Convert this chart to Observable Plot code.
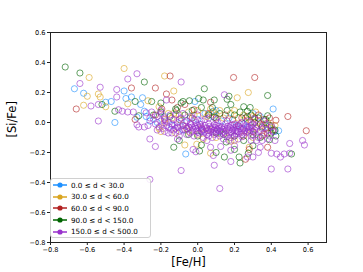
<!DOCTYPE html>
<html><head><meta charset="utf-8">
<script src="https://cdn.jsdelivr.net/npm/d3@7"></script>
<script src="https://cdn.jsdelivr.net/npm/@observablehq/plot@0.6"></script>
<style>
body{margin:0;background:#fff;font-family:"DejaVu Sans",sans-serif;}
#wrap{position:relative;width:363px;height:272px;}
#legend{position:absolute;left:50px;top:178px;width:101px;height:60px;border:1px solid #d0d0d0;border-radius:3px;background:rgba(255,255,255,0.85);box-sizing:border-box;}
.row{position:absolute;left:0;height:11px;display:flex;align-items:center;font-size:7.2px;color:#000;white-space:nowrap;}
.row svg{margin-left:2px;margin-right:4px;}
</style></head><body>
<div id="wrap"><div id="chart"></div><div id="legend"></div></div>
<script>
const seriesLabels = ["0.0 ≤ d < 30.0","30.0 ≤ d < 60.0","60.0 ≤ d < 90.0","90.0 ≤ d < 150.0","150.0 ≤ d < 500.0"];
const seriesColors = ["#1e90ff","#daa520","#b22222","#006400","#9932cc"];
const xTicks = [-0.8,-0.6,-0.4,-0.2,0.0,0.2,0.4,0.6];
const yTicks = [-0.8,-0.6,-0.4,-0.2,0.0,0.2,0.4,0.6];

// [Fe/H], [Si/Fe] pairs
const d0_30 = [[-0.67,0.225],[-0.62,0.195],[-0.50,0.135],[-0.47,0.14],[-0.45,0.0],[-0.40,0.21],[-0.36,0.17],[-0.39,0.16],
 [-0.30,0.165],[-0.31,0.12],[-0.29,0.075],[-0.33,0.035],[-0.015,0.14],[0.085,0.075],[-0.065,-0.21],[0.41,0.09],[0.44,-0.055],
 [-0.22,0.0],[-0.18,0.04],[-0.14,-0.02],[-0.09,0.01],[-0.04,0.03],[0.0,0.02],[0.04,0.06],[0.08,0.04],[0.10,0.08],[0.13,0.01],
 [0.17,0.03],[0.21,-0.02],[0.25,-0.01],[0.27,-0.03],[0.30,0.06],[0.34,0.04],[0.38,-0.03],[0.42,-0.06],[0.12,-0.06],[0.02,-0.06],
 [-0.08,-0.05],[-0.26,0.01],[-0.28,0.04]];
const d30_60 = [[-0.59,0.30],[-0.60,0.175],[-0.62,0.115],[-0.54,0.19],[-0.53,0.17],[-0.50,0.105],[-0.40,0.36],[-0.38,0.125],
 [-0.27,0.145],[-0.18,0.31],[-0.13,0.21],[-0.21,0.105],[-0.13,0.06],[0.07,0.09],[-0.07,-0.15],[-0.005,-0.145],[0.03,-0.11],
 [0.07,-0.205],[0.215,0.165],[0.275,0.20],[0.315,0.07],[0.28,-0.165],[0.18,-0.125],
 [-0.20,-0.06],[-0.21,-0.04],[-0.18,0.0],[-0.16,0.06],[-0.14,0.03],[-0.10,0.05],[-0.05,0.07],[-0.02,0.05],[0.0,0.08],[0.03,0.06],
 [0.05,0.04],[0.08,0.07],[0.10,0.05],[0.12,0.08],[0.14,0.03],[0.18,0.06],[0.20,0.08],[0.22,0.03],[0.25,0.05],[0.28,0.02],[0.30,0.04],
 [0.33,0.01],[0.35,-0.02],[0.38,0.0],[0.40,-0.04],[0.36,-0.08],[0.30,-0.10],[0.20,-0.12],[0.10,-0.10],[0.0,-0.08],[-0.05,-0.06],
 [-0.12,-0.07],[-0.08,-0.02],[0.06,-0.05],[0.15,-0.07],[0.26,-0.06],[0.32,-0.04],[0.42,-0.02]];
const d60_90 = [[-0.66,0.09],[-0.36,0.23],[-0.34,0.02],[-0.23,0.23],[-0.15,0.31],[-0.17,0.19],[-0.14,0.15],[-0.195,0.09],
 [-0.11,0.10],[-0.07,0.12],[-0.02,0.085],[0.07,0.135],[0.195,0.30],[0.31,0.30],[0.49,0.04],[0.59,-0.055],[0.425,0.015],
 [0.38,-0.165],[0.26,-0.245],[0.28,-0.18],
 [-0.10,0.02],[-0.03,0.03],[0.02,-0.04],[0.10,0.03],[0.15,0.05],[0.19,0.02],[0.24,0.03],[0.27,0.04],[0.29,0.0],[0.31,0.03],
 [0.33,0.05],[0.34,-0.01],[0.36,0.02],[0.37,-0.04],[0.39,0.03],[0.40,-0.02],[0.41,-0.05],[0.30,-0.06],[0.22,-0.02],[0.06,0.06],
 [-0.06,-0.04],[-0.18,0.02],[-0.23,0.05],[0.35,-0.09],[0.38,-0.07],[0.25,-0.09]];
const d90_150 = [[-0.72,0.37],[-0.64,0.33],[-0.52,0.12],[-0.45,0.075],[-0.34,0.14],[-0.29,0.27],[-0.32,0.045],[-0.25,0.14],
 [-0.20,0.13],[-0.08,0.14],[-0.09,0.13],[-0.115,0.08],[-0.045,0.145],[0.005,0.16],[0.036,0.225],[0.03,0.15],[0.09,0.15],
 [0.09,0.035],[-0.13,-0.165],[0.01,-0.19],[0.02,-0.15],[-0.10,-0.12],[0.10,-0.20],[0.17,0.175],[0.16,0.155],[0.25,0.105],
 [0.18,0.12],[0.27,0.075],[0.38,0.18],[0.285,0.10],[0.38,0.045],[0.425,-0.09],[0.51,-0.21],[0.275,-0.205],[0.23,-0.27],
 [0.225,-0.23],[0.145,-0.23],[0.30,-0.155],[0.20,-0.18],[0.39,-0.115],[0.155,-0.13],
 [-0.24,0.05],[-0.20,0.07],[-0.15,0.04],[-0.12,0.09],[-0.07,0.05],[-0.03,0.08],[0.02,0.10],[0.06,0.05],[0.08,0.10],[0.12,0.06],
 [0.16,0.08],[0.20,0.05],[0.23,0.07],[0.26,0.03],[0.29,0.05],[0.31,0.0],[0.33,0.03],[0.35,-0.03],[0.37,0.02],[0.39,-0.02],
 [0.40,-0.07],[0.42,-0.05],[0.30,-0.08],[0.20,-0.09],[0.10,-0.07],[0.0,-0.09],[-0.05,-0.08],[0.14,-0.08],[0.25,-0.12],[0.34,-0.10]];
const d150_500 = [[-0.64,0.26],[-0.58,0.11],[-0.53,0.235],[-0.54,0.12],[-0.54,0.01],[-0.44,0.22],[-0.44,0.17],[-0.43,0.085],
 [-0.41,0.075],[-0.38,0.07],[-0.35,0.07],[-0.38,0.29],[-0.33,0.325],[-0.33,-0.015],[-0.32,-0.03],[-0.28,0.065],[-0.29,-0.03],
 [-0.26,-0.11],[-0.23,-0.16],[-0.26,-0.38],[-0.17,0.15],[-0.09,0.27],[-0.09,-0.32],[-0.11,-0.11],[-0.025,-0.18],[-0.01,-0.195],
 [0.05,-0.12],[0.07,-0.165],[0.085,-0.22],[0.09,-0.285],[0.12,-0.44],[0.125,-0.16],[0.145,0.185],[0.18,-0.26],[0.20,-0.155],
 [0.18,-0.185],[0.42,-0.12],[0.40,-0.205],[0.43,-0.21],[0.45,-0.23],[0.47,-0.21],[0.50,-0.205],[0.50,-0.14],[0.57,-0.12],
 [0.58,-0.15],[0.40,-0.31],[0.49,-0.31],[0.34,-0.165],[0.33,-0.20],[0.30,-0.23],[0.27,-0.23],[0.35,-0.12],[0.32,-0.12],[0.17,-0.12],
 [-0.26,0.03],[-0.27,-0.02],[-0.25,0.07],[-0.20,0.08],
 [-0.24,0.02],[-0.23,-0.01],[-0.22,0.04],[-0.21,-0.03],[-0.20,0.01],[-0.19,-0.04],[-0.18,0.03],[-0.17,-0.02],[-0.16,0.0],
 [-0.15,0.05],[-0.22,-0.05],[-0.18,-0.06],[-0.20,0.06],[-0.16,-0.07],
 [-0.14,-0.01],[-0.13,0.02],[-0.12,-0.04],[-0.11,0.0],[-0.10,-0.06],[-0.09,0.03],[-0.08,-0.02],[-0.07,-0.05],[-0.06,0.01],
 [-0.05,-0.03],[-0.14,-0.07],[-0.12,0.05],[-0.10,-0.09],[-0.08,0.06],[-0.06,-0.08],[-0.11,-0.03],[-0.07,0.0],[-0.13,-0.05],
 [-0.04,-0.01],[-0.03,-0.06],[-0.02,0.02],[-0.01,-0.04],[0.0,-0.02],[0.01,-0.07],[0.02,0.01],[0.03,-0.05],[0.04,-0.02],
 [0.05,-0.08],[-0.04,0.04],[-0.02,-0.09],[0.0,0.05],[0.02,-0.03],[0.04,0.02],[-0.03,-0.03],[0.01,-0.01],[0.03,-0.10],
 [0.05,-0.04],[-0.01,0.0],
 [0.06,-0.01],[0.07,-0.06],[0.08,-0.03],[0.09,-0.08],[0.10,-0.02],[0.11,-0.05],[0.12,-0.09],[0.13,-0.03],[0.14,-0.06],
 [0.15,-0.01],[0.06,0.03],[0.08,-0.10],[0.10,0.02],[0.12,-0.04],[0.14,-0.11],[0.07,-0.04],[0.09,-0.05],[0.11,0.0],
 [0.13,-0.07],[0.15,-0.08],[0.06,-0.07],[0.10,-0.06],
 [0.16,-0.04],[0.17,-0.07],[0.18,-0.02],[0.19,-0.05],[0.20,-0.09],[0.21,-0.03],[0.22,-0.06],[0.23,-0.01],[0.24,-0.08],
 [0.25,-0.04],[0.16,0.01],[0.18,-0.10],[0.20,-0.01],[0.22,-0.11],[0.24,0.0],[0.17,-0.05],[0.19,-0.08],[0.21,-0.06],
 [0.23,-0.04],[0.25,-0.07],
 [0.26,-0.02],[0.27,-0.06],[0.28,-0.03],[0.29,-0.09],[0.30,-0.01],[0.31,-0.05],[0.32,-0.08],[0.33,-0.02],[0.34,-0.06],
 [0.35,-0.04],[0.27,0.01],[0.29,-0.12],[0.31,0.02],[0.33,-0.10],[0.28,-0.07],
 [0.36,-0.07],[0.37,-0.01],[0.38,-0.05],[0.39,-0.09],[0.40,-0.03],[0.41,-0.06],[0.36,0.01],[0.38,-0.11],
 [-0.045,-0.035],[-0.035,-0.015],[-0.025,-0.045],[-0.015,-0.025],[-0.005,-0.055],[0.005,-0.035],[0.015,-0.015],[0.025,-0.045],
 [0.035,-0.065],[0.045,-0.035],[0.055,-0.055],[0.065,-0.025],[0.075,-0.045],[0.085,-0.065],[0.095,-0.035],[0.105,-0.045],
 [0.115,-0.025],[0.125,-0.055],[0.135,-0.045],[0.145,-0.035],[0.155,-0.055],[0.165,-0.025],[0.175,-0.035],[0.185,-0.065],
 [0.195,-0.035],[0.205,-0.055],[0.215,-0.045],[0.225,-0.025],[0.235,-0.065],[0.245,-0.045],[0.255,-0.055],[0.265,-0.035],
 [0.275,-0.045],[0.285,-0.055],[0.295,-0.035],[0.305,-0.065],[0.315,-0.03],[-0.155,-0.03],[-0.145,-0.045],[-0.125,-0.02],
 [-0.105,-0.035],[-0.085,-0.045],[-0.065,-0.025],[-0.195,-0.015],[-0.175,0.01],[0.02,-0.055],[0.06,-0.09],[0.16,-0.095],
 [0.24,-0.095],[0.11,-0.075],[0.21,-0.075],[0.0,-0.065],[-0.04,-0.07],[0.09,-0.015],[0.19,-0.015],[0.29,-0.02]];

const allSeries = [d0_30, d30_60, d60_90, d90_150, d150_500];
const fmt = d3.format(".1f");

const dotMarks = allSeries.map((s, i) => Plot.dot(s, {
  x: d => d[0], y: d => d[1], r: 3.1, fill: "none",
  stroke: seriesColors[i], strokeOpacity: 0.6, strokeWidth: 1
}));

const chart = Plot.plot({
  width: 363, height: 272,
  marginLeft: 50, marginRight: 37, marginTop: 32, marginBottom: 30,
  style: {fontFamily: "DejaVu Sans", fontSize: "6.6px", color: "#000", background: "#fff"},
  x: {domain: [-0.8, 0.7]},
  y: {domain: [-0.8, 0.6]},
  marks: [
    ...dotMarks,
    Plot.frame({stroke: "#222", strokeWidth: 1}),
    Plot.axisX({ticks: xTicks, tickFormat: fmt, tickSize: 3, tickPadding: 2, label: null, stroke: "#222"}),
    Plot.axisY({ticks: yTicks, tickFormat: fmt, tickSize: 3, tickPadding: 2, label: null, stroke: "#222"}),
    Plot.text(["[Fe/H]"], {text: d => d, frameAnchor: "bottom", dy: 23, fontSize: 11.5, fill: "#000"}),
    Plot.text(["[Si/Fe]"], {text: d => d, frameAnchor: "left", dx: -38, rotate: -90, fontSize: 11.5, fill: "#000"})
  ]
});
document.getElementById("chart").appendChild(chart);

const legend = document.getElementById("legend");
seriesLabels.forEach((lab, i) => {
  const row = document.createElement("div");
  row.className = "row";
  row.style.top = (0.5 + i * 11.7) + "px";
  row.innerHTML = `<svg width="14" height="8"><line x1="0" x2="14" y1="4" y2="4" stroke="${seriesColors[i]}" stroke-width="1.5"/><circle cx="7" cy="4" r="2.6" fill="${seriesColors[i]}"/></svg>`;
  const t = document.createElement("span");
  t.textContent = lab;
  row.appendChild(t);
  legend.appendChild(row);
});
</script>
</body></html>
